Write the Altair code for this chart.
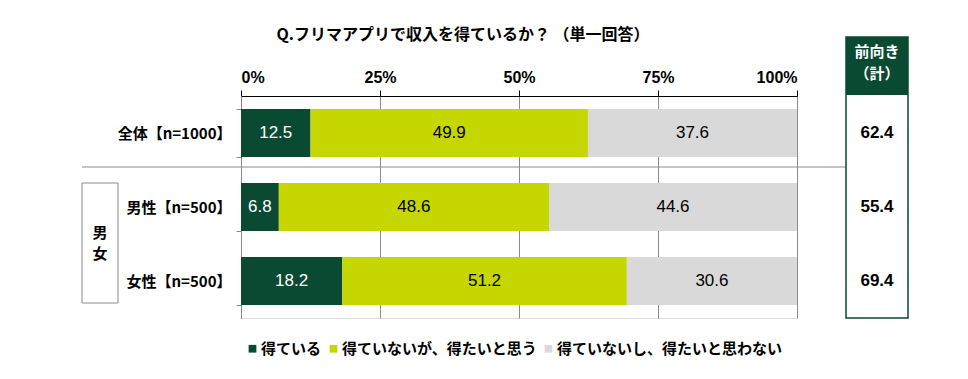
import altair as alt
import pandas as pd

categories = ["全体【n=1000】", "男性【n=500】", "女性【n=500】"]
series = ["得ている", "得ていないが、得たいと思う", "得ていないし、得たいと思わない"]
v_earning = [12.5, 6.8, 18.2]
v_want = [49.9, 48.6, 51.2]
v_not = [37.6, 44.6, 30.6]
positive_total = [62.4, 55.4, 69.4]
colors = ["#0B4A32", "#C5D600", "#D9D9D9"]
text_colors = ["#FFFFFF", "#000000", "#000000"]

rows = []
for i, c in enumerate(categories):
    start = 0.0
    for j, (s, vals) in enumerate(zip(series, [v_earning, v_want, v_not])):
        v = vals[i]
        rows.append({"cat": c, "series": s, "value": v, "start": start,
                     "end": start + v, "mid": start + v / 2,
                     "label": f"{v:.1f}", "tcol": text_colors[j], "ord": j})
        start += v
df = pd.DataFrame(rows)
df_tot = pd.DataFrame({"cat": categories, "tot": [f"{v:.1f}" for v in positive_total]})

FONT = "Noto Sans CJK JP"
NUMFONT = "Liberation Sans"

yenc = alt.Y("cat:N", sort=categories,
             scale=alt.Scale(paddingInner=0.35, paddingOuter=0.175),
             axis=alt.Axis(title=None, labelFont=FONT, labelFontWeight="bold",
                           labelFontSize=15, labelColor="#000", labelPadding=5,
                           labelLimit=0,
                           domainColor="#888", tickColor="#888", tickSize=5,
                           tickBand="extent"))

xenc = alt.X("start:Q", scale=alt.Scale(domain=[0, 100], nice=False),
             axis=alt.Axis(orient="top", title=None, values=[0, 25, 50, 75, 100],
                           labelExpr="datum.value + '%'", labelFont=NUMFONT,
                           labelFontWeight="bold", labelFontSize=16, labelColor="#000",
                           labelPadding=5, domainColor="#000", tickColor="#000",
                           tickSize=6, grid=True, gridColor="#8c8c8c", gridWidth=1))

base = alt.Chart(df)

bars = base.mark_bar(size=48).encode(
    x=xenc,
    x2="end:Q",
    y=yenc,
    color=alt.Color("series:N", sort=series,
                    scale=alt.Scale(domain=series, range=colors),
                    legend=alt.Legend(title=None, orient="none", legendX=4, legendY=245,
                                      direction="horizontal", symbolType="square",
                                      symbolSize=60, symbolStrokeWidth=0,
                                      labelFont=FONT, labelFontWeight="bold",
                                      labelFontSize=15, labelColor="#000", labelLimit=0,
                                      columnPadding=4, symbolOffset=0, labelOffset=1)),
    order=alt.Order("ord:Q"),
)

labels = base.mark_text(font=NUMFONT, fontSize=17, baseline="middle", align="center").encode(
    x=alt.X("mid:Q"),
    y=alt.Y("cat:N", sort=categories),
    text="label:N",
    color=alt.Color("tcol:N", scale=None),
)

# title
title = alt.Chart(pd.DataFrame({"t": ["Q.フリマアプリで収入を得ているか？ （単一回答）"]})).mark_text(
    font=FONT, fontWeight="bold", fontSize=16, align="center", baseline="middle", color="#000"
).encode(x=alt.value(222), y=alt.value(-61), text="t:N")

# right box
box = alt.Chart(pd.DataFrame({"a": [0]})).mark_rect(
    fill="#FFFFFF", stroke="#0B4A32", strokeWidth=1.5
).encode(x=alt.value(605), x2=alt.value(667), y=alt.value(-59), y2=alt.value(222))
header = alt.Chart(pd.DataFrame({"a": [0]})).mark_rect(
    fill="#0B4A32"
).encode(x=alt.value(605), x2=alt.value(667), y=alt.value(-59), y2=alt.value(-1))
header_t1 = alt.Chart(pd.DataFrame({"t": ["前向き"]})).mark_text(
    font=FONT, fontWeight="bold", fontSize=15, color="#FFFFFF", align="center", baseline="middle"
).encode(x=alt.value(636), y=alt.value(-44), text="t:N")
header_t2 = alt.Chart(pd.DataFrame({"t": ["（計）"]})).mark_text(
    font=FONT, fontWeight="bold", fontSize=15, color="#FFFFFF", align="center", baseline="middle"
).encode(x=alt.value(636), y=alt.value(-22), text="t:N")
totals = alt.Chart(df_tot).mark_text(
    font=NUMFONT, fontWeight="bold", fontSize=17, color="#000", align="center", baseline="middle"
).encode(x=alt.value(636), y=alt.Y("cat:N", sort=categories), text="tot:N")

# separator line
sep = alt.Chart(pd.DataFrame({"a": [0]})).mark_rule(color="#8c8c8c", strokeWidth=1.2).encode(
    x=alt.value(-159), x2=alt.value(667), y=alt.value(71))

# gender group box
gbox = alt.Chart(pd.DataFrame({"a": [0]})).mark_rect(
    fill="#FFFFFF", stroke="#8c8c8c", strokeWidth=1
).encode(x=alt.value(-159), x2=alt.value(-123), y=alt.value(87), y2=alt.value(207))
gt1 = alt.Chart(pd.DataFrame({"t": ["男"]})).mark_text(
    font=FONT, fontWeight="bold", fontSize=15, color="#000", align="center", baseline="middle"
).encode(x=alt.value(-141), y=alt.value(137), text="t:N")
gt2 = alt.Chart(pd.DataFrame({"t": ["女"]})).mark_text(
    font=FONT, fontWeight="bold", fontSize=15, color="#000", align="center", baseline="middle"
).encode(x=alt.value(-141), y=alt.value(158), text="t:N")

chart = alt.layer(
    bars, labels, title, sep, box, header, header_t1, header_t2, totals, gbox, gt1, gt2
).properties(
    width=556, height=222,
    autosize=alt.AutoSizeParams(type="none"),
    padding={"left": 233, "top": 88, "right": 163, "bottom": 53},
).configure_view(
    stroke="#000", strokeWidth=1
).configure(background="#FFFFFF")

chart.save("out.html", embed_options={"renderer": "svg", "actions": False})
